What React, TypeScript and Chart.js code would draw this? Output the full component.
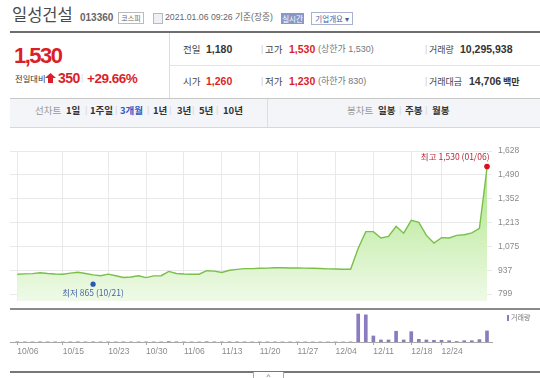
import React, { useEffect, useRef } from "react";
import { Chart, registerables } from "chart.js";

Chart.register(...registerables);

const dates = [
  "10/06", "10/07", "10/08", "10/12", "10/13", "10/14", "10/15", "10/16", "10/19", "10/20",
  "10/21", "10/22", "10/23", "10/26", "10/27", "10/28", "10/29", "10/30", "11/02", "11/03",
  "11/04", "11/05", "11/06", "11/09", "11/10", "11/11", "11/12", "11/13", "11/16", "11/17",
  "11/18", "11/19", "11/20", "11/23", "11/24", "11/25", "11/26", "11/27", "11/30", "12/01",
  "12/02", "12/03", "12/04", "12/07", "12/08", "12/09", "12/10", "12/11", "12/14", "12/15",
  "12/16", "12/17", "12/18", "12/21", "12/22", "12/23", "12/24", "12/28", "12/29", "12/30",
  "01/04", "01/05", "01/06",
];

const closePrices = [
  914, 916, 917, 922, 918, 915, 914, 920, 925, 918,
  910, 905, 914, 905, 895, 898, 905, 894, 904, 905,
  930, 918, 915, 914, 914, 934, 932, 924, 937, 942,
  946, 946, 948, 949, 951, 951, 950, 950, 949, 948,
  947, 945, 944, 943, 943, 1065, 1161, 1161, 1124, 1133,
  1192, 1152, 1226, 1215, 1139, 1095, 1126, 1124, 1139, 1143,
  1154, 1180, 1530,
];

const volumes = [
  150000, 90000, 80000, 180000, 110000, 90000, 70000, 100000, 160000, 90000,
  120000, 90000, 110000, 80000, 130000, 90000, 80000, 100000, 90000, 80000,
  420000, 150000, 90000, 70000, 60000, 260000, 120000, 90000, 180000, 140000,
  110000, 80000, 90000, 70000, 80000, 60000, 60000, 70000, 60000, 60000,
  50000, 60000, 50000, 60000, 70000, 26000000, 25200000, 5600000, 1900000, 1900000,
  10000000, 1900000, 9600000, 2500000, 1900000, 1600000, 1600000, 1200000, 500000, 1200000,
  1200000, 2200000, 10295938,
];

const tickDates = ["10/06", "10/15", "10/23", "10/30", "11/06", "11/13", "11/20", "11/27", "12/04", "12/11", "12/18", "12/24"];
const yTickLabels = ["799", "937", "1,075", "1,213", "1,352", "1,490", "1,628"];

const lowDate = "10/21";
const lowValue = 865;
const highDate = "01/06";
const highValue = 1530;

const PRICE_MIN = 759;
const PRICE_MAX = 1628;
const VOL_MAX = 29700000;
const X_MIN = -0.9636;
const X_MAX = 62.66;

const NUM_FONT = '"Liberation Sans", "Noto Sans CJK KR", sans-serif';
const KR_FONT = '"Noto Sans CJK KR", "Liberation Sans", sans-serif';
const RED = "#db1f2a";

const fmt = (n: number) => n.toLocaleString("en-US");
const tickIdx = tickDates.map((d) => dates.indexOf(d));
const yTickValues = yTickLabels.map((l) => Number(l.replace(/,/g, "")));

const markerPlugin = {
  id: "hiLoMarkers",
  afterDatasetsDraw(chart: any) {
    const { ctx } = chart;
    const xs = chart.scales.x;
    const ys = chart.scales.y;
    ctx.save();
    const lx = xs.getPixelForValue(dates.indexOf(lowDate));
    const ly = ys.getPixelForValue(lowValue);
    ctx.fillStyle = "#2a58b5";
    ctx.beginPath();
    ctx.arc(lx, ly + 1.5, 2.6, 0, Math.PI * 2);
    ctx.fill();
    ctx.font = "8.5px " + KR_FONT;
    ctx.fillStyle = "#4a64a6";
    ctx.textAlign = "center";
    ctx.textBaseline = "middle";
    ctx.fillText(`최저 ${fmt(lowValue)} (${lowDate})`, lx, ly + 10.5);

    const hx = xs.getPixelForValue(dates.indexOf(highDate));
    const hy = ys.getPixelForValue(highValue);
    ctx.fillStyle = "#d6101f";
    ctx.beginPath();
    ctx.arc(hx, hy - 1.5, 2.8, 0, Math.PI * 2);
    ctx.fill();
    ctx.fillStyle = "#b8283a";
    ctx.textAlign = "right";
    ctx.fillText(`최고 ${fmt(highValue)} (${highDate})`, hx + 2.5, hy - 11);
    ctx.restore();
  },
};

const Txt = (p: any) => (
  <div
    style={{
      position: "absolute",
      left: p.x,
      top: p.y - (p.size || 10) * 0.55,
      fontSize: p.size || 10,
      lineHeight: 1,
      whiteSpace: "nowrap",
      color: p.color || "#333",
      fontWeight: p.bold ? 700 : 400,
      fontFamily: p.font || NUM_FONT,
      letterSpacing: p.ls || 0,
    }}
  >
    {p.children}
  </div>
);

const Box = (p: any) => (
  <div style={{ position: "absolute", left: p.x, top: p.y, width: p.w, height: p.h, background: p.bg, ...p.style }}>
    {p.children}
  </div>
);

export default function App() {
  const priceRef = useRef<HTMLCanvasElement>(null);
  const volRef = useRef<HTMLCanvasElement>(null);

  useEffect(() => {
    const priceChart = new Chart(priceRef.current as HTMLCanvasElement, {
      type: "line",
      data: {
        datasets: [
          {
            data: closePrices.map((p, i) => ({ x: i, y: p })),
            borderColor: "#79bf4a",
            borderWidth: 1.4,
            pointRadius: 0,
            tension: 0,
            fill: "start",
            backgroundColor: (c: any) => {
              const ca = c.chart.chartArea;
              if (!ca) return "rgba(200,240,180,0.6)";
              const g = c.chart.ctx.createLinearGradient(0, ca.top, 0, ca.bottom);
              g.addColorStop(0, "rgb(165,227,124)");
              g.addColorStop(1, "rgb(239,250,232)");
              return g;
            },
          },
        ],
      },
      options: {
        animation: false,
        responsive: false,
        maintainAspectRatio: false,
        layout: { padding: { left: 10, top: 10, bottom: 3, right: 0 } },
        plugins: { legend: { display: false }, tooltip: { enabled: false } },
        scales: {
          x: {
            type: "linear",
            min: X_MIN,
            max: X_MAX,
            bounds: "data",
            afterBuildTicks: (s: any) => {
              s.ticks = tickIdx.map((v) => ({ value: v }));
            },
            ticks: { display: false },
            grid: { color: "#e9e9e9", drawTicks: false },
            border: { display: false },
            afterFit: (s: any) => {
              s.height = 0;
            },
          },
          y: {
            type: "linear",
            position: "right",
            min: PRICE_MIN,
            max: PRICE_MAX,
            bounds: "data",
            afterBuildTicks: (s: any) => {
              s.ticks = yTickValues.map((v) => ({ value: v }));
            },
            ticks: {
              callback: (_v: any, i: number) => yTickLabels[i],
              font: { size: 8.5, family: NUM_FONT },
              color: "#8a8a8a",
              padding: 6,
            },
            grid: { color: "#e9e9e9", drawTicks: false },
            border: { display: false },
            afterFit: (s: any) => {
              s.width = 48;
            },
          },
        },
      } as any,
      plugins: [markerPlugin],
    });

    const volChart = new Chart(volRef.current as HTMLCanvasElement, {
      type: "bar",
      data: {
        datasets: [
          {
            data: volumes.map((v, i) => ({ x: i, y: v })),
            backgroundColor: "#8b7bbf",
            barThickness: 3,
            borderWidth: 0,
          },
        ],
      },
      options: {
        animation: false,
        responsive: false,
        maintainAspectRatio: false,
        layout: { padding: { left: 10, top: 5, bottom: 0, right: 48 } },
        plugins: { legend: { display: false }, tooltip: { enabled: false } },
        scales: {
          x: {
            type: "linear",
            min: X_MIN,
            max: X_MAX,
            offset: false,
            bounds: "data",
            afterBuildTicks: (s: any) => {
              s.ticks = tickIdx.map((v) => ({ value: v }));
            },
            ticks: {
              callback: (_v: any, i: number) => tickDates[i],
              align: "start",
              autoSkip: false,
              maxRotation: 0,
              font: { size: 8.5, family: NUM_FONT },
              color: "#8a8a8a",
              padding: 2,
            },
            grid: { offset: false, drawOnChartArea: false, drawTicks: true, tickLength: 3, color: "#a8a8a8" },
            border: { color: "#a8a8a8", width: 1 },
            afterFit: (s: any) => {
              s.height = 23;
            },
          },
          y: { display: false, min: 0, max: VOL_MAX },
        },
      } as any,
    });

    return () => {
      priceChart.destroy();
      volChart.destroy();
    };
  }, []);

  return (
    <div
      style={{
        position: "absolute",
        left: 0,
        top: 0,
        width: 540,
        height: 378,
        overflow: "hidden",
        background: "#fff",
        fontFamily: NUM_FONT,
      }}
    >
      {/* title row */}
      <Txt x={12} y={15} size={16.5} font={KR_FONT} color="#4a4a4a">일성건설</Txt>
      <Txt x={80} y={18} size={10} bold color="#666">013360</Txt>
      <Box x={118} y={12} w={24} h={10} bg="#fff" style={{ border: "1px solid #bbb", fontSize: 7, lineHeight: "10px", textAlign: "center", color: "#666", fontFamily: KR_FONT }}>코스피</Box>
      <Box x={153} y={13} w={8} h={9} bg="#eef0f3" style={{ border: "1px solid #b5b9c0" }} />
      <Txt x={165} y={18} size={8.7} color="#666">2021.01.06 09:26 기준(장중)</Txt>
      <Box x={281} y={13} w={23} h={11} bg="#8898c6" style={{ fontSize: 7.5, lineHeight: "11px", textAlign: "center", color: "#fff", fontFamily: KR_FONT }}>실시간</Box>
      <Box x={311} y={12} w={40} h={11} bg="#fff" style={{ border: "1px solid #a8b2d0", fontSize: 7.5, lineHeight: "11px", textAlign: "center", color: "#4a5d9c", fontFamily: KR_FONT }}>기업개요 ▾</Box>
      <Box x={10} y={31} w={530} h={2} bg="#6e6e6e" />

      {/* price block */}
      <Txt x={14} y={57} size={22} bold color={RED} ls={-1.5}>1,530</Txt>
      <Txt x={15} y={79} size={8.3} font={KR_FONT} color="#333">전일대비</Txt>
      <svg style={{ position: "absolute", left: 45, top: 73 }} width={11} height={10}>
        <polygon points="5.5,0 11,5 8,5 8,10 3,10 3,5 0,5" fill={RED} />
      </svg>
      <Txt x={58} y={79} size={14} bold color={RED} ls={-0.5}>350</Txt>
      <Txt x={81} y={79} size={9} color="#ddd">|</Txt>
      <Txt x={87} y={79} size={13.5} bold color={RED} ls={-0.5}>+29.66%</Txt>

      <Box x={169} y={33} w={1} h={65} bg="#dcdcdc" />
      <Box x={169} y={65} w={371} h={1} bg="#e3e3e3" />
      <Box x={10} y={98} w={530} h={1} bg="#c8c8c8" />

      {/* info grid */}
      <Txt x={183} y={50} size={9.5} font={KR_FONT} color="#444">전일</Txt>
      <Txt x={206} y={50} size={10.5} bold color="#333">1,180</Txt>
      <Txt x={261} y={50} size={9} color="#ccc">|</Txt>
      <Txt x={265} y={50} size={9.5} font={KR_FONT} color="#444">고가</Txt>
      <Txt x={289} y={50} size={10.5} bold color={RED}>1,530</Txt>
      <Txt x={318} y={50} size={9} color="#777">(상한가 1,530)</Txt>
      <Txt x={425} y={50} size={9} color="#ccc">|</Txt>
      <Txt x={429} y={50} size={9} font={KR_FONT} color="#444">거래량</Txt>
      <Txt x={460} y={50} size={10.5} bold color="#333">10,295,938</Txt>

      <Txt x={183} y={82} size={9.5} font={KR_FONT} color="#444">시가</Txt>
      <Txt x={206} y={82} size={10.5} bold color={RED}>1,260</Txt>
      <Txt x={261} y={82} size={9} color="#ccc">|</Txt>
      <Txt x={265} y={82} size={9.5} font={KR_FONT} color="#444">저가</Txt>
      <Txt x={289} y={82} size={10.5} bold color={RED}>1,230</Txt>
      <Txt x={318} y={82} size={9} color="#777">(하한가 830)</Txt>
      <Txt x={425} y={82} size={9} color="#ccc">|</Txt>
      <Txt x={429} y={82} size={9} font={KR_FONT} color="#444">거래대금</Txt>
      <Txt x={469} y={82} size={10.5} bold color="#333">14,706</Txt>
      <Txt x={503} y={82} size={9} bold font={KR_FONT} color="#333">백만</Txt>

      {/* tab bar */}
      <Box x={10} y={99} w={530} h={28} bg="#f4f5f8" style={{ borderBottom: "1px solid #d8d8d8" }} />
      <Box x={267} y={99} w={1} h={28} bg="#dadde3" />
      <Txt x={35} y={111} size={9.5} font={KR_FONT} color="#999">선차트</Txt>
      <Txt x={66} y={111} size={9.5} bold font={KR_FONT} color="#333">1일</Txt>
      <Txt x={85} y={111} size={9} color="#d5d5d5">|</Txt>
      <Txt x={90} y={111} size={9.5} bold font={KR_FONT} color="#333">1주일</Txt>
      <Txt x={115} y={111} size={9} color="#d5d5d5">|</Txt>
      <Txt x={120} y={111} size={9.5} bold font={KR_FONT} color="#2e59c4">3개월</Txt>
      <Txt x={147} y={111} size={9} color="#d5d5d5">|</Txt>
      <Txt x={153} y={111} size={9.5} bold font={KR_FONT} color="#333">1년</Txt>
      <Txt x={169} y={111} size={9} color="#d5d5d5">|</Txt>
      <Txt x={177} y={111} size={9.5} bold font={KR_FONT} color="#333">3년</Txt>
      <Txt x={192} y={111} size={9} color="#d5d5d5">|</Txt>
      <Txt x={199} y={111} size={9.5} bold font={KR_FONT} color="#333">5년</Txt>
      <Txt x={216} y={111} size={9} color="#d5d5d5">|</Txt>
      <Txt x={223} y={111} size={9.5} bold font={KR_FONT} color="#333">10년</Txt>
      <Txt x={347} y={111} size={9.5} font={KR_FONT} color="#999">봉차트</Txt>
      <Txt x={378} y={111} size={9.5} bold font={KR_FONT} color="#333">일봉</Txt>
      <Txt x={399} y={111} size={9} color="#d5d5d5">|</Txt>
      <Txt x={405} y={111} size={9.5} bold font={KR_FONT} color="#333">주봉</Txt>
      <Txt x={425} y={111} size={9} color="#d5d5d5">|</Txt>
      <Txt x={432} y={111} size={9.5} bold font={KR_FONT} color="#333">월봉</Txt>

      {/* charts */}
      <canvas ref={priceRef} width={540} height={172} style={{ position: "absolute", left: 0, top: 140, width: 540, height: 172 }} />
      <canvas ref={volRef} width={540} height={60} style={{ position: "absolute", left: 0, top: 305, width: 540, height: 60 }} />

      <Box x={10} y={308} w={530} h={2} bg="#8a8a8a" />
      <Box x={507} y={315} w={2} h={6} bg="#8b7bbf" />
      <Txt x={511} y={318} size={7} font={KR_FONT} color="#777">거래량</Txt>

      <Box x={10} y={371} w={530} h={2} bg="#777" />
      <Box x={253} y={372} w={29} h={8} bg="#fff" style={{ border: "1px solid #aaa", borderTop: "none", fontSize: 8, lineHeight: "10px", textAlign: "center", color: "#666" }}>^</Box>
    </div>
  );
}
